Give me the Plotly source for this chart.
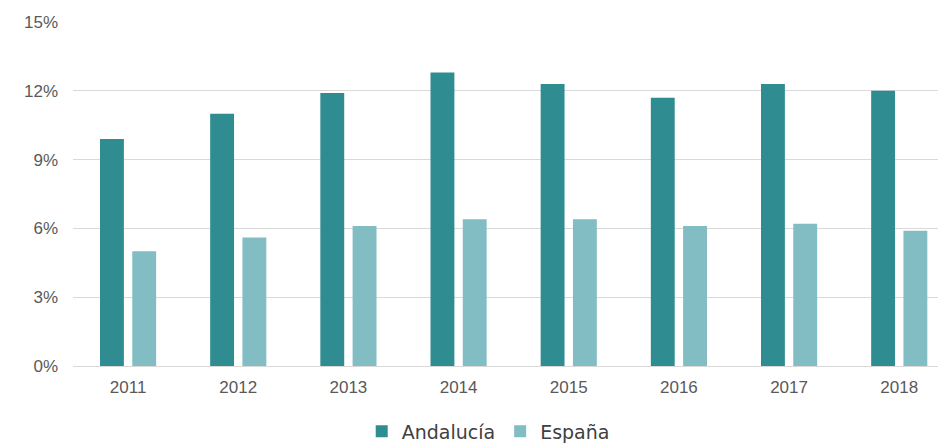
import plotly.graph_objects as go

years = ["2011", "2012", "2013", "2014", "2015", "2016", "2017", "2018"]
andalucia = [9.9, 11.0, 11.9, 12.8, 12.3, 11.7, 12.3, 12.0]
espana = [5.0, 5.6, 6.1, 6.4, 6.4, 6.1, 6.2, 5.9]
y_ticks = [0, 3, 6, 9, 12, 15]
y_tick_labels = ["0%", "3%", "6%", "9%", "12%", "15%"]

fig = go.Figure()
fig.add_trace(go.Bar(x=years, y=andalucia, name="Andalucía",
                     marker=dict(color="#2f8d92", line=dict(width=0))))
fig.add_trace(go.Bar(x=years, y=espana, name="España",
                     marker=dict(color="#82bdc3", line=dict(width=0))))

font = dict(family="Liberation Sans, Arial, sans-serif", size=17, color="#595959")
fig.update_layout(
    width=946, height=443,
    margin=dict(l=65, r=14, t=14, b=85, autoexpand=False),
    plot_bgcolor="white", paper_bgcolor="white",
    barmode="group", bargap=0.414, bargroupgap=0.26,
    font=font,
    showlegend=True,
    legend=dict(orientation="h", x=0.333, xanchor="left", y=-0.19, yanchor="middle",
                font=dict(family="DejaVu Sans, sans-serif", size=19, color="#404040"),
                itemwidth=30, traceorder="normal"),
    xaxis=dict(type="category", range=[-0.5, 7.37], showgrid=False, showline=False,
               ticks="", tickfont=font, zeroline=False, automargin=False,
               ticklabelstandoff=9),
    yaxis=dict(range=[0, 15], tickvals=y_ticks, ticktext=y_tick_labels,
               showgrid=True, gridcolor="#d9d9d9", gridwidth=1, zeroline=True,
               zerolinecolor="#d9d9d9", zerolinewidth=1, showline=False, ticks="",
               tickfont=font, ticklabelstandoff=14, automargin=False),
)

fig.write_html("out.html")
